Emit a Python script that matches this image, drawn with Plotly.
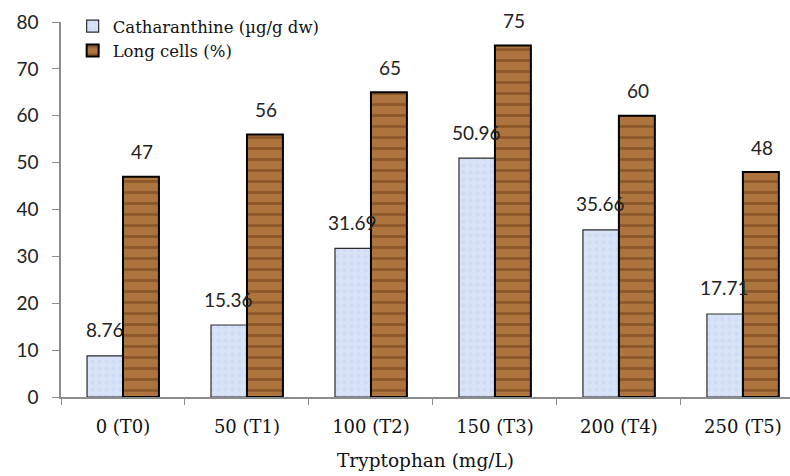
import plotly.graph_objects as go

categories = ["0 (T0)", "50 (T1)", "100 (T2)", "150 (T3)", "200 (T4)", "250 (T5)"]
catharanthine = [8.76, 15.36, 31.69, 50.96, 35.66, 17.71]
long_cells = [47, 56, 65, 75, 60, 48]
y_ticks = [0, 10, 20, 30, 40, 50, 60, 70, 80]

num_font = "Lato, DejaVu Sans, sans-serif"
serif_font = "DejaVu Serif, Liberation Serif, serif"

fig = go.Figure()
fig.add_trace(go.Bar(
    x=categories, y=catharanthine, name="Catharanthine (µg/g dw)",
    marker=dict(color="#d3dff6", line=dict(color="#2b2b2b", width=1.2),
                pattern=dict(shape=".", fgcolor="#c6d2f2", bgcolor="#d8e3f7",
                             size=7, solidity=0.3)),
))
fig.add_trace(go.Bar(
    x=categories, y=long_cells, name="Long cells (%)",
    marker=dict(color="#a46a35", line=dict(color="#000000", width=2),
                pattern=dict(shape="-", fgcolor="#6a3a17", bgcolor="#ad743d",
                             size=11, solidity=0.25)),
))

# value labels above each bar
for i, cat in enumerate(categories):
    fig.add_annotation(x=cat, y=catharanthine[i], text=f"{catharanthine[i]:.2f}",
                       xshift=-18, yshift=26, showarrow=False,
                       font=dict(family=num_font, size=19, color="#222"))
    fig.add_annotation(x=cat, y=long_cells[i], text=str(long_cells[i]),
                       xshift=19, yshift=25, showarrow=False,
                       font=dict(family=num_font, size=19, color="#222"))

fig.update_layout(
    width=790, height=476,
    margin=dict(l=61, r=0, t=22, b=79),
    paper_bgcolor="white", plot_bgcolor="white",
    barmode="group", bargap=0.42, bargroupgap=0,
    showlegend=True,
    legend=dict(x=0.016, y=1.035, xanchor="left", yanchor="top",
                bgcolor="rgba(0,0,0,0)", tracegroupgap=0, itemwidth=30,
                font=dict(family=serif_font, size=16.5, color="#111")),
    xaxis=dict(
        range=[-0.5, 5.38], showline=True, linecolor="#8c8c8c", linewidth=1.5,
        ticks="outside", tickson="boundaries", ticklen=6, tickcolor="#8c8c8c",
        ticklabelstandoff=13,
        tickfont=dict(family=serif_font, size=18, color="#111"),
        title=dict(text="Tryptophan (mg/L)", standoff=18,
                   font=dict(family=serif_font, size=18.5, color="#111")),
        showgrid=False,
    ),
    yaxis=dict(
        range=[0, 80], tickvals=y_ticks, showline=True, linecolor="#8c8c8c",
        linewidth=1.5, ticks="outside", ticklen=7, tickcolor="#8c8c8c",
        ticklabelstandoff=10,
        tickfont=dict(family=num_font, size=19, color="#222"),
        showgrid=False, zeroline=False,
    ),
)

fig.write_html("out.html")
